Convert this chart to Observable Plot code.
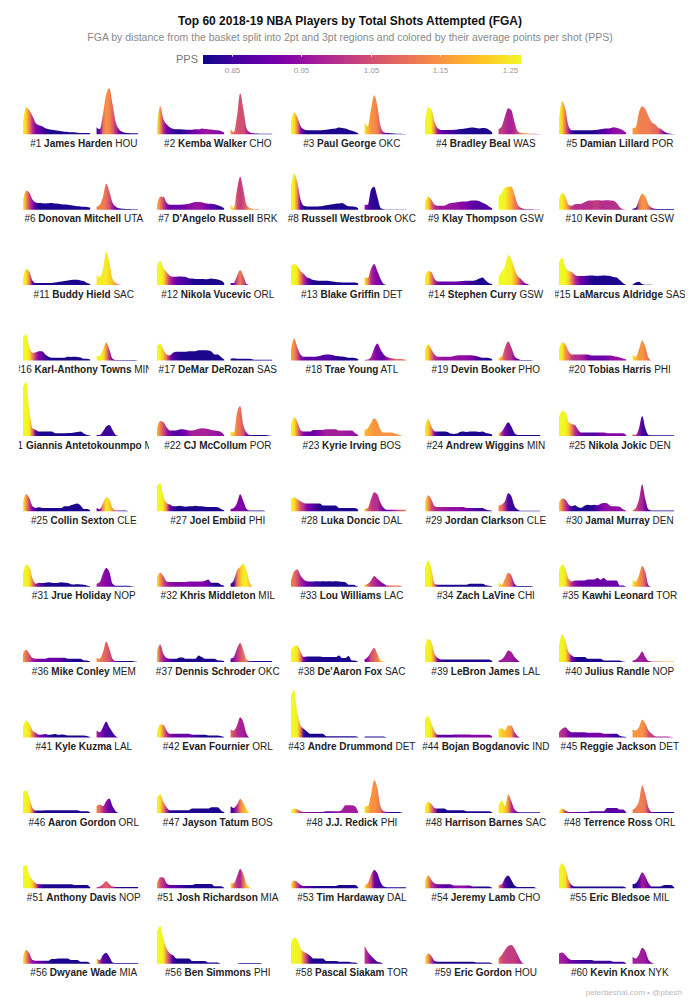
<!DOCTYPE html>
<html><head><meta charset="utf-8">
<script src="https://cdn.jsdelivr.net/npm/d3@7"></script>
<script src="https://cdn.jsdelivr.net/npm/@observablehq/plot@0.6"></script>
<style>
html,body{margin:0;padding:0;background:#fff;overflow:hidden;width:700px;height:1005px;}
body{position:relative;font-family:"Liberation Sans",Arial,Helvetica,sans-serif;}
.abs{position:absolute;white-space:nowrap;}
#title{left:0;width:700px;top:14px;text-align:center;font-size:12px;line-height:14px;font-weight:bold;color:#111;}
#subtitle{left:0;width:700px;top:31px;text-align:center;font-size:10.5px;line-height:12px;color:#888;}
#ppslabel{right:502px;top:52.5px;font-size:11px;line-height:13px;color:#777;}
#legend{left:203px;top:55px;}
#chart{left:0;top:78px;}
#footer{right:18px;top:988px;font-size:8px;line-height:10px;color:#bbb;}
</style></head><body>
<div id="title" class="abs">Top 60 2018-19 NBA Players by Total Shots Attempted (FGA)</div>
<div id="subtitle" class="abs">FGA by distance from the basket split into 2pt and 3pt regions and colored by their average points per shot (PPS)</div>
<div id="ppslabel" class="abs">PPS</div>
<div id="legend" class="abs"></div>
<div id="chart" class="abs"></div>
<div id="footer" class="abs">peterbeshai.com • @pbesh</div>
<script>
// ---------- data ----------
const players = ["James Harden","Kemba Walker","Paul George","Bradley Beal","Damian Lillard",
"Donovan Mitchell","D'Angelo Russell","Russell Westbrook","Klay Thompson","Kevin Durant",
"Buddy Hield","Nikola Vucevic","Blake Griffin","Stephen Curry","LaMarcus Aldridge",
"Karl-Anthony Towns","DeMar DeRozan","Trae Young","Devin Booker","Tobias Harris",
"Giannis Antetokounmpo","CJ McCollum","Kyrie Irving","Andrew Wiggins","Nikola Jokic",
"Collin Sexton","Joel Embiid","Luka Doncic","Jordan Clarkson","Jamal Murray",
"Jrue Holiday","Khris Middleton","Lou Williams","Zach LaVine","Kawhi Leonard",
"Mike Conley","Dennis Schroder","De'Aaron Fox","LeBron James","Julius Randle",
"Kyle Kuzma","Evan Fournier","Andre Drummond","Bojan Bogdanovic","Reggie Jackson",
"Aaron Gordon","Jayson Tatum","J.J. Redick","Harrison Barnes","Terrence Ross",
"Anthony Davis","Josh Richardson","Tim Hardaway","Jeremy Lamb","Eric Bledsoe",
"Dwyane Wade","Ben Simmons","Pascal Siakam","Eric Gordon","Kevin Knox"];
const ranks = [1,2,3,4,5,6,7,8,9,10,11,12,13,14,15,16,17,18,19,20,21,22,23,24,25,25,27,28,29,30,
31,32,33,34,35,36,37,38,39,40,41,42,43,44,45,46,47,48,48,48,51,51,53,54,55,56,56,58,59,60];
const teams = ["HOU","CHO","OKC","WAS","POR","UTA","BRK","OKC","GSW","GSW","SAC","ORL","DET","GSW","SAS",
"MIN","SAS","ATL","PHO","PHI","MIL","POR","BOS","MIN","DEN","CLE","PHI","DAL","CLE","DEN",
"NOP","MIL","LAC","CHI","TOR","MEM","OKC","SAC","LAL","NOP","LAL","ORL","DET","IND","DET",
"ORL","BOS","PHI","SAC","ORL","NOP","MIA","DAL","CHO","MIL","MIA","PHI","TOR","HOU","NYK"];

// shot distance (ft) of each bin
const dist2 = [0,1,2,3,4,5,6,7,8,9,10,11,12,13,14,15,16,17,18,19,20,21];
const dist3 = [22,23,24,25,26,27,28,29,30,31,32,33,34,35];

// FGA per distance bin, 2pt region
const fga2 = [
[120,270,240,180,110,90,80,60,50,45,40,35,30,25,23,20,20,15,13,13,12,10],
[80,280,150,100,70,55,50,50,48,46,45,45,50,48,57,52,50,47,43,40,33,15],
[120,220,170,80,50,40,40,40,40,40,42,45,50,55,58,67,62,57,45,35,25,10],
[120,270,250,120,60,43,43,43,43,45,48,52,55,60,65,67,62,58,63,60,45,20],
[150,330,250,80,40,40,40,40,40,40,40,42,45,50,55,57,60,70,65,55,40,15],
[100,190,170,100,73,67,65,63,65,67,62,60,55,52,50,45,40,35,33,30,28,20],
[50,130,130,70,50,50,50,50,52,55,60,70,77,77,75,65,60,60,55,45,33,15],
[230,360,270,100,40,33,33,33,33,35,38,45,50,55,60,62,67,50,35,33,30,15],
[70,130,100,50,40,40,40,55,67,70,75,80,83,83,90,93,92,85,70,55,33,15],
[100,170,130,50,40,55,57,60,75,90,93,92,94,93,93,95,92,90,67,25,5,0],
[60,160,130,43,20,20,20,20,20,22,25,30,35,40,45,50,53,53,45,40,20,10],
[190,240,170,130,93,83,83,85,83,80,67,65,62,60,60,58,60,65,60,55,45,20],
[190,210,190,140,110,77,67,50,45,43,43,43,40,35,30,28,27,27,27,25,25,15],
[80,140,130,60,37,37,37,37,37,37,37,38,40,43,43,43,50,65,77,45,20,10],
[230,270,180,140,130,100,90,90,92,93,95,93,92,93,95,93,90,80,77,50,20,0],
[230,260,130,77,83,93,93,60,37,27,27,27,27,27,37,35,37,35,30,17,17,10],
[140,170,110,60,50,77,87,87,87,87,93,93,93,103,103,103,100,90,60,60,35,10],
[110,220,130,60,37,37,37,37,40,45,55,60,60,55,45,43,40,35,27,27,25,15],
[110,160,110,60,37,37,37,37,37,45,50,53,53,53,53,50,45,35,27,27,25,15],
[110,180,160,93,60,60,60,60,60,60,50,50,50,50,50,50,50,45,37,30,20,10],
[490,540,260,77,60,43,43,43,43,43,27,27,27,27,30,30,33,38,43,25,10,5],
[77,150,140,87,55,53,55,65,67,62,55,55,60,72,77,75,70,60,55,50,40,10],
[110,190,140,60,43,43,43,60,60,60,60,67,67,67,67,53,53,53,53,53,30,10],
[93,170,93,45,43,45,43,40,25,20,25,40,43,40,43,45,43,40,43,30,25,15],
[190,250,240,140,120,110,60,33,33,33,33,33,33,33,33,27,27,27,27,27,27,10],
[100,170,130,50,33,40,33,33,33,33,33,33,33,50,50,60,70,77,57,23,23,10],
[250,280,150,83,67,50,50,55,50,45,50,50,55,50,50,45,43,43,43,40,23,10],
[120,140,120,100,83,77,77,77,77,77,57,57,57,57,57,33,33,33,33,33,33,15],
[100,160,117,50,43,43,43,43,43,43,43,43,43,33,33,33,33,33,33,17,10,5],
[83,127,117,67,50,60,40,35,55,65,60,65,60,75,83,80,55,50,50,45,20,5],
[130,220,197,80,30,40,37,40,45,40,37,40,45,40,37,25,23,25,23,20,13,5],
[97,140,107,53,47,47,47,47,47,47,53,53,53,53,53,60,73,40,40,40,20,10],
[63,153,173,113,73,55,53,53,55,53,55,53,55,53,55,53,50,45,20,20,15,0],
[180,260,180,30,20,20,20,20,20,20,20,20,20,20,30,30,30,30,30,15,10,5],
[163,223,180,80,53,63,63,63,63,73,73,73,87,70,87,63,63,63,63,13,13,0],
[83,123,83,40,33,33,33,33,43,43,43,43,43,43,33,33,33,33,33,17,17,5],
[117,177,83,40,33,33,33,47,47,33,33,33,33,67,50,33,33,33,33,17,17,10],
[117,160,167,100,50,57,57,57,57,57,50,50,50,50,50,67,40,40,60,17,17,0],
[150,233,200,83,40,27,27,27,27,27,27,27,27,27,27,27,27,27,27,27,27,10],
[167,277,217,100,67,50,50,50,50,33,33,33,33,33,17,17,17,17,17,17,5,0],
[103,170,137,70,47,27,30,35,27,30,35,27,30,27,20,20,20,20,20,20,15,5],
[53,130,127,70,37,37,37,37,37,37,37,27,27,27,27,27,20,20,20,20,15,5],
[420,470,250,120,87,60,37,37,37,37,37,13,13,13,13,13,13,13,13,13,13,5],
[187,213,137,60,27,27,27,27,27,30,30,30,30,30,30,27,27,27,27,27,27,10],
[53,87,103,70,53,53,53,53,53,47,47,47,47,47,37,37,37,37,37,17,10,5],
[200,227,150,50,23,23,23,27,27,27,27,27,27,27,27,27,27,27,17,17,17,5],
[150,183,110,57,27,27,27,27,27,27,27,43,43,43,43,43,43,57,57,57,25,10],
[17,43,33,17,10,10,10,10,10,10,10,17,17,17,17,17,33,77,77,77,67,10],
[67,110,90,50,43,43,43,27,27,27,27,27,27,17,17,17,17,17,17,17,17,5],
[17,43,23,10,10,10,10,10,10,10,17,17,17,17,17,50,50,50,50,33,33,5],
[217,233,133,83,50,40,40,40,40,40,40,40,40,40,40,40,33,33,33,33,33,10],
[50,110,107,50,33,33,33,33,33,33,33,33,43,43,43,43,43,43,20,20,20,5],
[50,77,60,33,23,23,23,23,23,23,23,23,23,23,23,33,33,33,33,33,33,10],
[67,127,83,50,40,40,40,40,40,27,27,27,27,27,27,17,17,17,17,17,17,5],
[200,250,200,83,33,17,17,17,17,17,17,17,17,17,17,17,17,17,17,17,17,5],
[70,137,103,37,30,30,30,30,30,47,47,53,53,53,53,37,37,37,20,20,20,5],
[320,377,253,153,103,87,53,53,53,53,53,27,27,27,27,27,13,13,13,13,0,0],
[203,260,237,153,120,103,80,53,53,53,53,27,27,27,27,20,20,20,20,13,13,0],
[60,103,77,27,20,20,20,20,20,20,20,20,20,20,20,20,13,13,13,13,13,5],
[103,113,87,53,37,37,37,37,37,37,37,30,30,30,30,30,30,20,20,20,20,5]];

// FGA per distance bin, 3pt region
const fga3 = [
[70,50,200,400,460,300,120,50,25,15,12,10,10,8],
[50,20,180,410,250,60,20,10,8,6,5,5,5,5],
[120,80,250,390,280,80,20,12,10,8,6,5,4,3],
[50,80,180,260,240,120,30,15,10,8,6,5,4,3],
[60,70,220,280,250,180,120,100,65,50,25,10,5,3],
[30,50,130,260,180,70,30,15,10,8,6,5,4,3],
[50,20,200,330,200,50,17,8,5,3,2,0,0,0],
[50,50,200,230,130,20,5,3,2,2,2,2,2,2],
[130,170,220,230,230,150,50,20,8,5,4,3,2,2],
[10,20,100,160,130,50,20,10,8,7,7,7,7,7],
[100,80,160,330,230,60,20,5,0,0,0,0,0,0],
[20,20,90,150,90,10,0,0,0,0,0,0,0,0],
[80,70,160,210,140,60,10,0,0,0,0,0,0,0],
[90,130,190,300,260,160,90,60,27,10,0,0,0,0],
[5,27,33,10,3,3,3,0,0,0,0,0,0,0],
[43,50,110,180,110,17,5,5,5,5,5,5,5,0],
[17,23,17,17,17,17,17,10,7,7,7,7,7,7],
[5,10,35,120,170,110,60,35,25,20,15,15,12,8],
[27,37,130,190,130,43,17,5,5,5,5,0,0,0],
[60,37,110,200,140,27,0,0,0,0,0,0,0,0],
[10,10,43,93,110,60,10,0,0,0,0,0,0,0],
[43,33,230,300,110,33,10,10,10,10,10,8,5,0],
[60,77,130,177,140,60,33,33,33,30,20,10,0,0],
[27,43,93,137,93,27,10,10,10,10,10,10,10,10],
[20,10,77,200,77,10,7,7,7,7,7,7,7,7],
[33,23,80,140,120,33,10,7,7,7,0,0,0,0],
[23,33,83,170,100,23,7,7,7,7,7,0,0,0],
[23,33,120,190,170,83,33,15,15,15,15,15,15,15],
[57,67,100,180,150,50,17,5,5,5,5,5,5,5],
[10,33,117,270,117,17,7,7,7,7,7,7,7,7],
[30,47,130,187,147,30,10,10,10,10,10,5,0,0],
[30,63,163,197,230,163,40,0,0,0,0,0,0,0],
[20,30,63,107,80,53,30,13,13,13,13,13,0,0],
[47,20,80,140,113,30,7,7,7,7,7,0,0,0],
[63,53,113,207,147,13,0,0,0,0,0,0,0,0],
[40,33,100,207,133,33,10,10,10,10,10,10,5,0],
[33,50,133,190,117,27,10,10,10,10,10,10,10,10],
[27,50,100,143,83,17,5,0,0,0,0,0,0,0],
[17,27,67,117,100,50,17,0,0,0,0,0,0,0],
[17,27,60,107,50,10,5,5,5,5,5,5,5,5],
[70,53,103,160,103,53,13,0,0,0,0,0,0,0],
[80,70,120,203,153,37,0,0,0,0,0,0,0,0],
[10,10,10,10,10,10,10,0,0,0,0,0,0,0],
[80,93,70,120,120,53,13,0,0,0,0,0,0,0],
[80,70,103,177,137,70,37,13,10,10,10,10,5,0],
[67,83,67,117,143,67,17,0,0,0,0,0,0,0],
[67,50,83,140,100,33,0,0,0,0,0,0,0,0],
[67,67,180,330,250,67,17,10,10,10,10,10,0,0],
[67,123,67,183,117,33,10,7,7,7,7,7,7,7],
[33,57,117,273,183,50,10,10,10,10,10,10,10,10],
[10,17,40,73,40,17,13,13,13,13,13,13,13,13],
[50,50,117,193,140,40,7,0,0,0,0,0,0,0],
[33,50,133,183,150,60,17,10,10,10,10,10,10,10],
[33,40,100,127,83,27,13,13,13,13,13,13,0,0],
[40,50,100,160,117,50,17,17,17,20,33,33,33,10],
[53,37,87,110,70,13,7,7,7,7,7,7,7,7],
[0,0,0,7,7,7,7,7,7,7,0,0,0,0],
[177,120,80,47,20,13,0,0,0,0,0,0,0,0],
[53,87,137,177,187,153,87,27,0,0,0,0,0,0],
[70,53,93,160,127,37,10,0,0,0,0,0,0,0]];

// average points per shot per distance bin, 2pt region
const pps2 = [
[1.27,1.22,1.12,1.0,.93,.9,.87,.84,.82,.82,.82,.82,.82,.82,.82,.82,.82,.82,.82,.82,.82,.82],
[1.27,1.15,1.0,.92,.88,.85,.83,.83,.84,.85,.88,.9,.92,.93,.95,.96,.96,.95,.95,.94,.94,.93],
[1.27,1.24,1.12,.95,.85,.82,.82,.82,.82,.82,.82,.82,.82,.82,.82,.82,.82,.82,.82,.82,.82,.82],
[1.27,1.27,1.25,1.12,.95,.9,.88,.87,.86,.85,.84,.83,.82,.82,.82,.82,.82,.82,.82,.82,.82,.82],
[1.27,1.22,1.1,.98,.85,.82,.82,.82,.82,.82,.82,.83,.84,.86,.88,.9,.92,.94,.95,.95,.95,.94],
[1.27,1.15,1.03,.95,.85,.82,.82,.82,.82,.82,.82,.82,.82,.82,.82,.82,.82,.82,.82,.82,.82,.82],
[1.2,1.12,1.03,.95,.9,.9,.9,.9,.91,.92,.94,.95,.96,.96,.95,.93,.91,.89,.87,.85,.84,.83],
[1.27,1.25,1.12,.9,.82,.82,.82,.82,.82,.82,.82,.82,.82,.82,.82,.82,.82,.82,.82,.82,.82,.82],
[1.27,1.22,1.1,1.0,.97,.96,.96,.96,.96,.95,.95,.94,.93,.92,.9,.89,.88,.88,.87,.87,.87,.87],
[1.27,1.25,1.2,1.12,1.02,1.0,1.0,1.0,1.0,1.0,1.0,1.02,1.02,1.0,1.0,1.0,1.0,1.0,1.0,1.0,1.0,1.0],
[1.27,1.24,1.12,.9,.82,.82,.82,.82,.82,.82,.82,.82,.82,.82,.82,.82,.82,.82,.82,.82,.82,.82],
[1.27,1.27,1.24,1.13,1.0,.95,.9,.88,.87,.86,.85,.83,.82,.82,.82,.82,.82,.82,.82,.82,.82,.82],
[1.27,1.27,1.24,1.13,1.0,.92,.85,.82,.82,.82,.82,.82,.82,.82,.82,.82,.82,.82,.82,.82,.82,.82],
[1.27,1.24,1.12,1.0,.92,.9,.9,.9,.9,.9,.9,.9,.88,.87,.85,.84,.83,.82,.82,.82,.82,.82],
[1.27,1.27,1.26,1.22,1.12,1.0,.95,.9,.87,.85,.83,.82,.82,.82,.82,.82,.82,.82,.82,.82,.82,.82],
[1.27,1.27,1.24,1.12,1.0,.92,.9,.85,.82,.82,.82,.82,.82,.82,.82,.82,.82,.82,.82,.82,.82,.82],
[1.27,1.26,1.2,1.1,.95,.88,.85,.83,.82,.82,.82,.82,.82,.82,.82,.82,.82,.82,.82,.82,.82,.82],
[1.17,1.14,1.05,.95,.9,.88,.88,.88,.88,.88,.88,.88,.87,.86,.84,.83,.82,.82,.82,.82,.82,.82],
[1.27,1.22,1.1,1.0,.97,.96,.95,.95,.95,.95,.95,.95,.95,.94,.93,.92,.88,.85,.83,.82,.82,.82],
[1.27,1.25,1.15,1.1,1.02,1.0,1.0,.98,.96,.92,.9,.9,.9,.9,.9,.92,.94,.95,.95,.95,.95,.95],
[1.27,1.27,1.25,1.1,.88,.82,.82,.82,.82,.82,.82,.82,.82,.82,.82,.82,.82,.82,.82,.82,.82,.82],
[1.2,1.12,1.05,.97,.92,.88,.88,.88,.9,.92,.95,.97,.98,.98,.98,.98,.97,.97,.96,.95,.95,.95],
[1.27,1.24,1.12,1.0,.93,.9,.9,.9,.92,.94,.96,.97,.97,.97,.97,.97,.97,.97,.96,.96,.96,.96],
[1.27,1.22,1.12,.92,.84,.82,.82,.82,.82,.82,.82,.82,.82,.82,.82,.82,.82,.82,.82,.82,.82,.82],
[1.27,1.27,1.26,1.22,1.12,1.0,.95,.9,.88,.88,.88,.88,.9,.92,.93,.93,.93,.93,.93,.93,.93,.93],
[1.27,1.15,1.02,.92,.84,.82,.82,.82,.82,.82,.82,.82,.82,.82,.82,.82,.82,.82,.82,.82,.82,.82],
[1.27,1.27,1.24,1.12,.92,.85,.82,.82,.82,.82,.82,.82,.82,.82,.82,.82,.82,.82,.82,.82,.82,.82],
[1.27,1.24,1.15,1.05,1.0,.93,.9,.88,.85,.83,.82,.82,.82,.82,.82,.82,.82,.82,.82,.82,.82,.82],
[1.27,1.15,1.05,1.0,.98,.97,.96,.96,.95,.95,.95,.94,.93,.92,.9,.88,.87,.86,.85,.85,.85,.85],
[1.22,1.12,1.02,.95,.85,.82,.82,.82,.82,.82,.83,.85,.88,.92,.94,.95,.95,.95,.95,.95,.95,.95],
[1.27,1.26,1.24,1.12,.98,.9,.85,.82,.82,.82,.82,.82,.82,.82,.82,.82,.82,.82,.82,.82,.82,.82],
[1.25,1.15,1.05,.98,.95,.94,.93,.93,.93,.93,.93,.93,.93,.93,.93,.92,.9,.85,.82,.82,.82,.82],
[1.12,1.1,1.05,.98,.95,.9,.88,.86,.85,.83,.82,.82,.82,.82,.82,.82,.82,.82,.82,.82,.82,.82],
[1.27,1.27,1.24,1.1,.85,.82,.82,.82,.82,.82,.82,.82,.82,.82,.82,.82,.82,.82,.82,.82,.82,.82],
[1.27,1.26,1.24,1.12,1.0,.95,.92,.9,.9,.9,.9,.9,.9,.9,.9,.9,.9,.9,.9,.9,.9,.9],
[1.17,1.1,1.05,.98,.95,.92,.9,.9,.9,.9,.9,.9,.88,.85,.83,.82,.82,.82,.82,.82,.82,.82],
[1.22,1.05,.98,.92,.88,.84,.82,.82,.82,.82,.82,.82,.82,.82,.82,.82,.82,.82,.82,.82,.82,.82],
[1.27,1.26,1.24,1.12,.92,.84,.82,.82,.82,.82,.82,.82,.82,.82,.82,.82,.82,.82,.82,.82,.82,.82],
[1.27,1.26,1.24,1.12,.92,.85,.83,.82,.82,.82,.82,.82,.82,.82,.82,.82,.82,.82,.82,.82,.82,.82],
[1.27,1.26,1.24,1.12,.92,.85,.82,.82,.82,.82,.82,.82,.82,.82,.82,.82,.82,.82,.82,.82,.82,.82],
[1.27,1.26,1.24,1.12,1.0,.92,.9,.88,.85,.82,.82,.82,.82,.82,.82,.82,.82,.82,.82,.82,.82,.82],
[1.27,1.24,1.12,1.0,.95,.92,.9,.9,.9,.9,.9,.88,.86,.84,.82,.82,.82,.82,.82,.82,.82,.82],
[1.27,1.27,1.25,1.12,.85,.82,.82,.82,.82,.82,.82,.82,.82,.82,.82,.82,.82,.82,.82,.82,.82,.82],
[1.27,1.27,1.24,1.12,.9,.88,.88,.88,.88,.9,.92,.93,.93,.93,.93,.93,.93,.93,.93,.93,.93,.93],
[1.02,1.0,.98,.93,.9,.9,.9,.9,.9,.91,.92,.92,.92,.92,.92,.9,.88,.85,.84,.84,.84,.84],
[1.27,1.26,1.24,1.1,.85,.82,.82,.82,.82,.82,.82,.82,.82,.82,.82,.82,.82,.82,.82,.82,.82,.82],
[1.27,1.24,1.12,1.0,.85,.82,.82,.82,.82,.82,.82,.82,.82,.82,.82,.82,.82,.82,.82,.82,.82,.82],
[1.27,1.24,1.12,1.0,.97,.95,.93,.92,.91,.9,.9,.9,.92,.93,.95,.96,.97,.97,.97,.97,.97,.97],
[1.27,1.24,1.12,1.0,.85,.82,.82,.82,.82,.82,.82,.82,.82,.82,.82,.82,.82,.82,.82,.82,.82,.82],
[1.27,1.2,1.0,.95,.93,.92,.9,.88,.88,.88,.88,.88,.88,.88,.88,.88,.88,.88,.88,.88,.88,.88],
[1.27,1.27,1.26,1.22,1.1,.9,.85,.82,.82,.82,.82,.82,.82,.82,.82,.82,.82,.82,.82,.82,.82,.82],
[1.17,1.05,1.0,.95,.9,.9,.88,.86,.85,.83,.82,.82,.82,.82,.82,.82,.82,.82,.82,.82,.82,.82],
[1.27,1.15,1.02,.92,.9,.88,.85,.83,.82,.82,.82,.82,.82,.82,.82,.82,.82,.82,.82,.82,.82,.82],
[1.27,1.15,1.02,.97,.92,.9,.88,.88,.9,.93,.95,.95,.95,.93,.9,.88,.85,.83,.82,.82,.82,.82],
[1.27,1.26,1.24,1.12,.88,.82,.82,.82,.82,.82,.82,.82,.82,.82,.82,.82,.82,.82,.82,.82,.82,.82],
[1.27,1.15,1.02,.95,.92,.9,.88,.85,.83,.82,.82,.82,.82,.82,.82,.82,.82,.82,.82,.82,.82,.82],
[1.27,1.27,1.25,1.12,1.0,.85,.82,.82,.82,.82,.82,.82,.82,.82,.82,.82,.82,.82,.82,.82,.82,.82],
[1.27,1.27,1.26,1.25,1.12,1.0,.85,.82,.82,.82,.82,.82,.82,.82,.82,.82,.82,.82,.82,.82,.82,.82],
[1.27,1.15,1.02,.88,.82,.82,.82,.82,.82,.82,.82,.82,.82,.82,.82,.82,.82,.82,.82,.82,.82,.82],
[.98,.97,.96,.93,.9,.88,.87,.86,.85,.85,.85,.85,.85,.85,.85,.85,.85,.85,.85,.85,.85,.85]];

// average points per shot per distance bin, 3pt region
const pps3 = [
[.85,.9,1.1,1.15,1.13,1.08,1.0,.92,.85,.82,.82,.82,.82,.82],
[1.15,1.1,1.06,1.05,1.05,1.0,.95,.9,.85,.82,.82,.82,.82,.82],
[1.25,1.2,1.15,1.14,1.12,1.05,.95,.88,.82,.82,.82,.82,.82,.82],
[1.02,1.02,1.0,.98,.98,1.0,1.05,1.12,1.15,1.15,1.1,1.05,1.0,1.0],
[1.15,1.15,1.13,1.12,1.12,1.12,1.1,1.1,1.08,1.0,.92,.87,.85,.85],
[1.12,1.13,1.12,1.1,1.05,.97,.9,.85,.82,.82,.82,.82,.82,.82],
[1.25,1.2,1.05,1.02,1.04,1.1,1.15,1.15,1.15,1.15,1.15,1.15,1.15,1.15],
[.95,.9,.84,.83,.83,.83,.83,.83,.83,.83,.83,.83,.83,.83],
[1.27,1.27,1.26,1.22,1.18,1.12,1.08,1.0,.95,.95,.95,.95,.95,.95],
[.83,.85,1.1,1.15,1.15,1.1,.95,.85,.82,.82,.82,.82,.82,.82],
[1.25,1.25,1.25,1.25,1.23,1.2,1.15,1.1,1.1,1.1,1.1,1.1,1.1,1.1],
[.9,.92,1.05,1.12,1.05,.95,.9,.9,.9,.9,.9,.9,.9,.9],
[1.25,1.15,1.0,.95,.93,.9,.85,.82,.82,.82,.82,.82,.82,.82],
[1.27,1.27,1.27,1.26,1.25,1.2,1.12,1.0,.95,.9,.9,.9,.9,.9],
[.82,.82,.82,.82,.82,.82,.82,.82,.82,.82,.82,.82,.82,.82],
[1.27,1.26,1.25,1.15,1.0,.9,.85,.82,.82,.82,.82,.82,.82,.82],
[.82,.82,.82,.82,.82,.82,.82,.82,.82,.82,.82,.82,.82,.82],
[1.0,1.0,.98,.95,.92,.9,.9,.95,1.0,1.05,1.08,1.1,1.1,1.1],
[1.25,1.15,1.05,1.02,1.0,.93,.87,.84,.82,.82,.82,.82,.82,.82],
[1.25,1.2,1.15,1.15,1.13,1.1,1.1,1.1,1.1,1.1,1.1,1.1,1.1,1.1],
[.9,.88,.86,.85,.85,.85,.85,.85,.85,.85,.85,.85,.85,.85],
[1.25,1.2,1.12,1.1,1.05,.95,.88,.85,.82,.82,.82,.82,.82,.82],
[1.2,1.18,1.17,1.15,1.15,1.15,1.15,1.15,1.15,1.15,1.15,1.15,1.15,1.15],
[1.25,1.0,.92,.86,.84,.83,.82,.82,.82,.82,.82,.82,.82,.82],
[1.1,1.0,.95,.86,.84,.83,.82,.82,.82,.82,.82,.82,.82,.82],
[.9,.95,1.15,1.25,1.22,1.15,1.05,.9,.85,.82,.82,.82,.82,.82],
[.9,.92,.93,.93,.92,.9,.85,.82,.82,.82,.82,.82,.82,.82],
[1.2,1.1,1.02,1.0,1.0,.95,.9,.88,.9,.95,1.0,1.05,1.1,1.15],
[1.12,1.1,1.0,.87,.85,.84,.83,.82,.82,.82,.82,.82,.82,.82],
[1.12,1.05,1.0,.98,.92,.87,.85,.83,.82,.82,.82,.82,.82,.82],
[.97,.96,.95,.93,.92,.9,.85,.82,.82,.82,.82,.82,.82,.82],
[.84,.86,1.12,1.2,1.25,1.25,1.2,1.15,1.15,1.15,1.15,1.15,1.15,1.15],
[1.25,1.1,1.02,1.0,.97,.95,.92,1.0,1.05,1.1,1.1,1.1,1.1,1.1],
[1.25,1.2,1.15,1.12,1.05,.92,.85,.82,.82,.82,.82,.82,.82,.82],
[1.25,1.2,1.15,1.12,1.05,.92,.85,.82,.82,.82,.82,.82,.82,.82],
[1.15,1.12,1.1,1.08,1.05,1.0,.9,.85,.82,.82,.82,.82,.82,.82],
[.85,.95,1.0,1.05,1.1,1.12,.9,.85,.82,.82,.82,.82,.82,.82],
[.9,.95,1.05,1.08,1.12,1.2,1.2,1.2,1.2,1.2,1.2,1.2,1.2,1.2],
[.95,.96,.97,.97,.97,.95,.9,.85,.82,.82,.82,.82,.82,.82],
[.97,.97,.97,.97,.96,.95,1.0,1.05,1.1,1.15,1.2,1.2,1.2,1.2],
[.97,.95,.9,.87,.86,.86,.85,.85,.85,.85,.85,.85,.85,.85],
[1.1,1.05,1.0,.98,.97,.95,.9,.9,.9,.9,.9,.9,.9,.9],
[.82,.82,.82,.82,.82,.82,.82,.82,.82,.82,.82,.82,.82,.82],
[1.25,1.22,1.2,1.18,1.15,1.0,.95,.9,.9,.9,.9,.9,.9,.9],
[1.15,1.15,1.15,1.15,1.12,1.05,1.02,1.0,.98,.98,.98,.98,.98,.98],
[1.12,1.1,1.0,.95,.9,.88,.85,.82,.82,.82,.82,.82,.82,.82],
[.83,.9,1.0,1.12,1.18,1.22,1.22,1.22,1.22,1.22,1.22,1.22,1.22,1.22],
[1.25,1.2,1.15,1.15,1.13,1.1,1.0,.9,.85,.82,.82,.82,.82,.82],
[1.25,1.25,1.22,1.15,1.0,.95,.88,.85,.82,.82,.82,.82,.82,.82],
[1.12,1.12,1.12,1.12,1.1,1.0,.9,.85,.82,.82,.82,.82,.82,.82],
[1.0,1.02,1.05,1.08,1.05,1.0,.9,.85,.82,.82,.82,.82,.82,.82],
[1.25,1.1,1.0,.98,1.1,1.2,1.22,1.22,1.22,1.22,1.22,1.22,1.22,1.22],
[1.25,1.15,1.1,.92,.88,.86,.85,.83,.82,.82,.82,.82,.82,.82],
[1.15,1.0,.88,.83,.82,.82,.82,.82,.82,.82,.82,.82,.82,.82],
[.82,.83,.88,.97,.95,.9,.85,.82,.82,.82,.82,.82,.82,.82],
[1.25,1.0,.9,.86,.85,.84,.83,.82,.82,.82,.82,.82,.82,.82],
[.82,.82,.82,.82,.82,.82,.82,.82,.82,.82,.82,.82,.82,.82],
[1.02,.98,.92,.88,.85,.83,.82,.82,.82,.82,.82,.82,.82,.82],
[1.12,1.05,1.03,1.02,1.02,1.02,1.0,.98,.98,.98,.98,.98,.98,.98],
[.97,.97,.97,.97,.96,.92,.88,.85,.85,.85,.85,.85,.85,.85]];

const ppsDomain = [0.809, 1.266];
const ppsTicks = [0.85, 0.95, 1.05, 1.15, 1.25];
const NCOLS = 5;
const GAP = 1; // ft of empty space drawn between 2pt and 3pt regions

// ---------- build tables ----------
const points = [];
const labels = [];
const series = {};
players.forEach((name, i) => {
  const col = i % NCOLS, row = Math.floor(i / NCOLS);
  labels.push({col, row, label: `#${ranks[i]} ${name} ${teams[i]}`});
  [[dist2, fga2[i], pps2[i], 0], [dist3, fga3[i], pps3[i], GAP]].forEach(([dist, f, p, off], r) => {
    const z = `s${i}-${r}`;
    series[z] = {dist, pps: p};
    f.forEach((v, j) => points.push({col, row, z, x: dist[j] + off, y: v, p: p[0]}));
  });
});

const colorOpts = {type: "linear", scheme: "plasma", domain: ppsDomain, clamp: true};

const chart = Plot.plot({
  width: 700,
  height: 907,
  marginTop: 0.3,
  marginBottom: 21.3,
  marginLeft: 23,
  marginRight: 20.4,
  style: {background: "transparent", fontFamily: "Liberation Sans, Arial, Helvetica, sans-serif", fontSize: "10px", color: "#222", overflow: "visible"},
  fx: {domain: d3.range(NCOLS), paddingInner: 0.1, paddingOuter: 0, axis: null, round: false},
  fy: {domain: d3.range(12), paddingInner: 0.2573, paddingOuter: 0, axis: null, round: false},
  x: {domain: [0, 37.7], axis: null},
  y: {domain: [0, 560], axis: null},
  color: colorOpts,
  marks: [
    Plot.areaY(points, {fx: "col", fy: "row", x: "x", y1: 0, y2: "y", z: "z", fill: "p", title: "z", curve: "monotone-x"}),
    Plot.text(labels, {fx: "col", fy: "row", text: "label", frameAnchor: "bottom", lineAnchor: "middle", dy: 9, fontSize: 10, fill: "#222"})
  ]
});
document.getElementById("chart").appendChild(chart);

const NS = "http://www.w3.org/2000/svg";
let defs = chart.querySelector("defs");
if (!defs) { defs = document.createElementNS(NS, "defs"); chart.insertBefore(defs, chart.firstChild); }

// colour along distance: gradient whose stops come from the plot's own colour scale
const cscale = chart.scale("color");
const colorOf = (cscale && typeof cscale.apply === "function")
  ? v => cscale.apply(v)
  : (() => { const s = Plot.scale({color: colorOpts}); return v => s.apply(v); })();
let gid = 0;
chart.querySelectorAll('g[aria-label="area"] path').forEach(path => {
  const tt = path.querySelector("title");
  if (!tt) return;
  const s = series[tt.textContent.trim()];
  tt.remove();
  if (!s) return;
  const d0 = s.dist[0], d1 = s.dist[s.dist.length - 1];
  const g = document.createElementNS(NS, "linearGradient");
  const id = "ppsgrad" + (gid++);
  g.setAttribute("id", id);
  g.setAttribute("x1", 0); g.setAttribute("x2", 1); g.setAttribute("y1", 0); g.setAttribute("y2", 0);
  s.dist.forEach((d, j) => {
    const st = document.createElementNS(NS, "stop");
    st.setAttribute("offset", (d - d0) / (d1 - d0));
    st.setAttribute("stop-color", colorOf(s.pps[j]));
    g.appendChild(st);
  });
  defs.appendChild(g);
  path.setAttribute("fill", `url(#${id})`);
});

// rank & team normal, name bold; clip long labels to the cell width
let clipN = 0;
chart.querySelectorAll('g[aria-label="text"] text').forEach(t => {
  const s = t.textContent;
  const parts = s.split(" ");
  if (parts.length < 3) return;
  const rank = parts[0], team = parts[parts.length - 1], name = parts.slice(1, -1).join(" ");
  t.textContent = "";
  t.style.whiteSpace = "pre";
  [[rank + " ", false], [name, true], [" " + team, false]].forEach(([txt, b]) => {
    const ts = document.createElementNS(NS, "tspan");
    ts.textContent = txt;
    if (b) ts.setAttribute("font-weight", "bold");
    t.appendChild(ts);
  });
  const bb = t.getBBox();
  const maxW = 130;
  if (bb.width > maxW) {
    const cp = document.createElementNS(NS, "clipPath");
    cp.setAttribute("id", "lblclip" + (clipN++));
    cp.setAttribute("clipPathUnits", "objectBoundingBox");
    const rc = document.createElementNS(NS, "rect");
    rc.setAttribute("x", (bb.width - maxW) / 2 / bb.width);
    rc.setAttribute("y", -1);
    rc.setAttribute("width", maxW / bb.width);
    rc.setAttribute("height", 3);
    cp.appendChild(rc);
    defs.appendChild(cp);
    t.setAttribute("clip-path", `url(#${cp.getAttribute("id")})`);
  }
});

// legend
const leg = Plot.legend({
  color: colorOpts,
  width: 318, height: 24,
  marginTop: 0, marginBottom: 15, marginLeft: 0, marginRight: 0,
  ticks: ppsTicks, tickFormat: ".2f", tickSize: 0, label: null,
  style: {fontSize: "8px", fontFamily: "Liberation Sans, Arial, Helvetica, sans-serif", color: "#999", background: "transparent", overflow: "visible"}
});
document.getElementById("legend").appendChild(leg);
leg.querySelectorAll(".tick line").forEach(l => {
  l.setAttribute("stroke", "#fff");
  l.setAttribute("y1", -9);
  l.setAttribute("y2", -7.5);
});
</script>
</body></html>
